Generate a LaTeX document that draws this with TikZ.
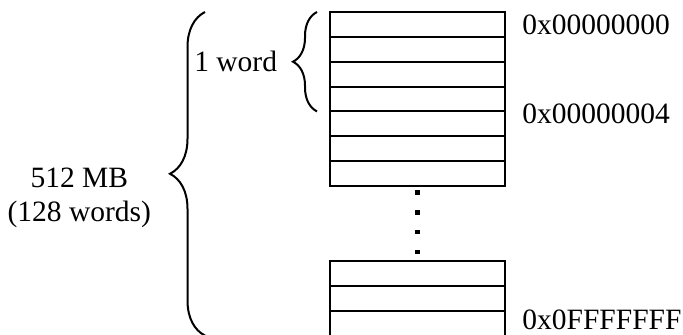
\documentclass[tikz,border=0pt]{standalone}
\usepackage{fontspec}
\setmainfont{Liberation Serif}
\usetikzlibrary{positioning,decorations.pathreplacing}
\definecolor{memInk}{HTML}{000000}
\tikzset{
  mem row/.style={draw=memInk, line width=1pt, minimum width=87.5pt, minimum height=12.43pt, inner sep=0pt, outer sep=0pt},
  mem dot/.style={rectangle, fill=memInk, minimum size=2.3pt, inner sep=0pt},
  mem brace/.style={draw=memInk, line width=1pt, decorate, decoration={brace, amplitude=#1}},
  mem label/.style={font=\fontsize{14.75}{17}\selectfont, text=memInk, inner sep=0pt},
}

\begin{document}
\begin{tikzpicture}[x=0.5pt, y=-0.5pt]
  \useasboundingbox (0,0) rectangle (683,335);

  % upper block: seven rows
  \node[mem row] (top1) at (417.5,24.43) {};
  \foreach \i [evaluate=\i as \j using int(\i-1)] in {2,...,7} {
    \node[mem row, below=0pt of top\j] (top\i) {};
  }

  % lower block: three rows
  \node[mem row] (bot1) at (417.5,273.43) {};
  \foreach \i [evaluate=\i as \j using int(\i-1)] in {2,3} {
    \node[mem row, below=0pt of bot\j] (bot\i) {};
  }

  % dots between the blocks
  \foreach \k in {0,...,3} {
    \node[mem dot] (dot\k) at ([yshift={-(3.35+9.85*\k)}]top7.south) {};
  }

  % addresses
  \node[mem label, right=8.5pt of top1] (addr0) {0x00000000};
  \node[mem label, right=8.5pt of top4.south east, yshift=-1.25pt] (addr4) {0x00000004};
  \node[mem label, right=8.5pt of bot3, yshift=1.5pt] (addrEnd) {0x0FFFFFFF};

  % braces
  \draw[mem brace=12pt] ([xshift=-6.5pt]top4.south west) -- node[mem label, anchor=east, xshift=-19.5pt] (wordLbl) {1 word} ([xshift=-6.5pt]top1.north west);
  \draw[mem brace=17.5pt] ([xshift=-62.5pt]bot3.south west) -- node[mem label, align=center, anchor=east, xshift=-26.5pt, yshift=-12.25pt] (sizeLbl) {512 MB\\(128 words)} ([xshift=-62.5pt]top1.north west);
\end{tikzpicture}
\end{document}
